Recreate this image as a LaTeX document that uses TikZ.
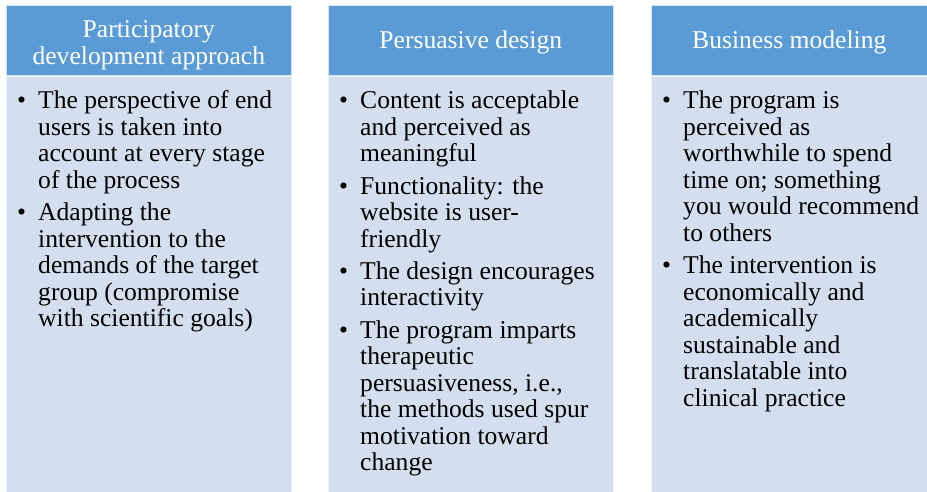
\documentclass[tikz,border=0pt]{standalone}
\usepackage{fontspec}
\setmainfont{Liberation Serif}
\usetikzlibrary{positioning}
\definecolor{hdblue}{HTML}{5B9BD5}
\definecolor{bdblue}{HTML}{D3DFEE}
\newcommand{\pt}{\textbullet}
\newcommand{\up}[1]{\rule{0pt}{#1}}

\begin{document}
\begin{tikzpicture}[x=1pt,y=1pt,
    every node/.style={font=\fontsize{25.6}{26.5}\selectfont},
    headbox/.style={fill=hdblue,draw=white!75!hdblue,line width=.6pt,text=white,
        minimum width=285pt,minimum height=70pt,align=center,inner sep=0pt,anchor=north west},
    bodybox/.style={fill=bdblue,draw=white!60!bdblue,line width=.6pt,
        minimum width=285pt,minimum height=416pt,inner sep=0pt},
    listtext/.style={inner sep=0pt,anchor=north west}]
    \useasboundingbox (0,0) rectangle (927,-491);

    %%%%%%% Intestazioni %%%%%%%
    \node[headbox] (hdA) at (6,-5) {\up{27pt}Participatory\\development approach};
    \node[headbox] (hdB) at (328,-5) {\up{22pt}Persuasive design};
    \node[headbox,minimum width=276pt] (hdC) at (651,-5) {\up{22pt}Business modeling};

    %%%%%%% Corpi %%%%%%%
    \node[bodybox,below=0pt of hdA] (bdA) {};
    \node[bodybox,below=0pt of hdB] (bdB) {};
    \node[bodybox,minimum width=276pt,below=0pt of hdC] (bdC) {};

    %%%%%%% Testo 1 %%%%%%%
    \node[listtext] (txA) at ([xshift=11pt,yshift=-14.5pt]bdA.north west) {%
        \begin{tabular}{@{}p{21pt}@{}l@{}}
            \pt & The perspective of end\\
                & users is taken into\\
                & account at every stage\\
                & of the process\\[5.8pt]
            \pt & Adapting the\\
                & intervention to the\\
                & demands of the target\\
                & group (compromise\\
                & with scientific goals)
        \end{tabular}};

    %%%%%%% Testo 2 %%%%%%%
    \node[listtext] (txB) at ([xshift=11pt,yshift=-14.5pt]bdB.north west) {%
        \begin{tabular}{@{}p{21pt}@{}l@{}}
            \pt & Content is acceptable\\
                & and perceived as\\
                & meaningful\\[5.8pt]
            \pt & Functionality: the\\
                & website is user-\\
                & friendly\\[5.8pt]
            \pt & The design encourages\\
                & interactivity\\[5.8pt]
            \pt & The program imparts\\
                & therapeutic\\
                & persuasiveness, i.e.,\\
                & the methods used spur\\
                & motivation toward\\
                & change
        \end{tabular}};

    %%%%%%% Testo 3 %%%%%%%
    \node[listtext] (txC) at ([xshift=11pt,yshift=-14.5pt]bdC.north west) {%
        \begin{tabular}{@{}p{21pt}@{}l@{}}
            \pt & The program is\\
                & perceived as\\
                & worthwhile to spend\\
                & time on; something\\
                & you would recommend\\
                & to others\\[5.8pt]
            \pt & The intervention is\\
                & economically and\\
                & academically\\
                & sustainable and\\
                & translatable into\\
                & clinical practice
        \end{tabular}};
\end{tikzpicture}
\end{document}
